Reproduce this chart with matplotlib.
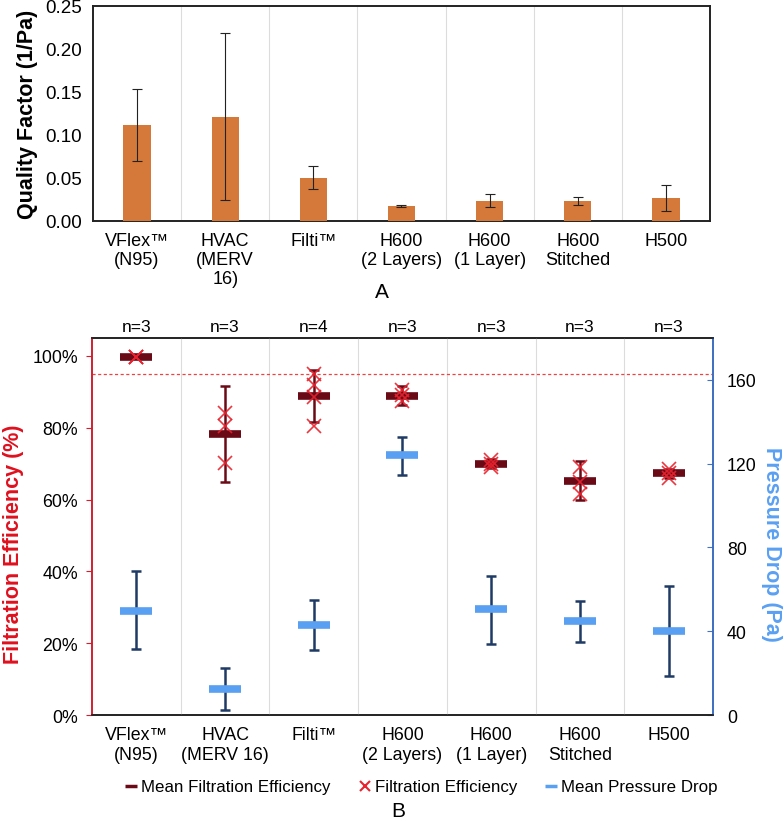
import matplotlib
matplotlib.use("Agg")
import matplotlib.pyplot as plt
import numpy as np
from matplotlib.lines import Line2D
from matplotlib.ticker import PercentFormatter

plt.rcParams['font.family'] = ['Liberation Sans', 'DejaVu Sans']

# ---------------- data ----------------
labels_a = ["VFlex™\n(N95)", "HVAC\n(MERV\n16)", "Filti™", "H600\n(2 Layers)",
            "H600\n(1 Layer)", "H600\nStitched", "H500"]
labels_b = ["VFlex™\n(N95)", "HVAC\n(MERV 16)", "Filti™", "H600\n(2 Layers)",
            "H600\n(1 Layer)", "H600\nStitched", "H500"]
quality_factor = [0.112, 0.121, 0.050, 0.017, 0.023, 0.023, 0.027]
qf_err_low = [0.042, 0.097, 0.013, 0.001, 0.007, 0.005, 0.015]
qf_err_high = [0.042, 0.097, 0.014, 0.001, 0.008, 0.005, 0.015]

n_samples = [3, 3, 4, 3, 3, 3, 3]
fe_points = [
    [99.8, 99.8, 99.8],
    [84.0, 80.5, 70.3],
    [95.0, 92.0, 88.5, 80.5],
    [90.5, 89.0, 87.5],
    [71.0, 70.0, 69.2],
    [69.2, 65.0, 61.5],
    [68.5, 67.5, 66.0],
]
fe_mean = [99.8, 78.2, 88.9, 88.9, 70.0, 65.3, 67.3]
fe_err = [0.0, 13.4, 7.2, 2.6, 1.3, 5.4, 1.3]
pd_mean = [49.9, 12.4, 43.1, 124.0, 50.4, 44.8, 40.2]
pd_err_low = [18.3, 10.0, 12.0, 9.4, 16.4, 9.7, 21.4]
pd_err_high = [18.7, 9.9, 11.6, 8.9, 15.8, 9.6, 21.2]
fe_threshold = 95

# ---------------- figure ----------------
fig = plt.figure(figsize=(7.84, 8.20), dpi=100)

bar_color = "#D4793A"
grid_color = "#DCDCDC"

# Panel A
axA = fig.add_axes([0.1186, 0.7293, 0.9056 - 0.1186, 0.9915 - 0.7293])
x = np.arange(len(labels_a))
axA.bar(x, quality_factor, width=0.31, color=bar_color, zorder=3)
axA.errorbar(x, quality_factor, yerr=[qf_err_low, qf_err_high], fmt='none',
             ecolor='#222222', elinewidth=0.8, capsize=3.5, capthick=0.8, zorder=4)
axA.set_xlim(-0.5, len(labels_a) - 0.5)
axA.set_ylim(0, 0.25)
axA.set_yticks(np.arange(0, 0.251, 0.05))
axA.set_yticklabels([f"{v:.2f}" for v in np.arange(0, 0.251, 0.05)], fontsize=13.5)
axA.set_xticks(x)
axA.set_xticklabels(labels_a, fontsize=13, linespacing=1.15)
axA.tick_params(axis='both', length=0, pad=8)
for xv in np.arange(0.5, len(labels_a) - 0.5, 1):
    axA.axvline(xv, color=grid_color, lw=0.8, zorder=0)
for s in axA.spines.values():
    s.set_color('#222222')
    s.set_linewidth(1.4)
axA.set_ylabel("Quality Factor (1/Pa)", fontsize=15.5, fontweight='bold', labelpad=5)
fig.text(382 / 784, 1 - 293 / 820, "A", fontsize=15, ha='center', va='center')

# Panel B
axB = fig.add_axes([0.1173, 0.1268, 0.9094 - 0.1173, 0.5866 - 0.1268])
axP = axB.twinx()
xb = np.arange(len(labels_b))
axB.set_xlim(-0.5, len(labels_b) - 0.5)
axB.set_ylim(0, 105)
axP.set_ylim(0, 180)

for xv in np.arange(0.5, len(labels_b) - 0.5, 1):
    axB.axvline(xv, color=grid_color, lw=0.8, zorder=0)
axB.axhline(fe_threshold, color='#F04040', lw=0.9, ls=(0, (2.5, 2)), zorder=1)

maroon = "#6B0A17"
red = "#E8222E"
light_blue = "#5AA0F2"
navy = "#1F3A64"

# pressure drop
axP.errorbar(xb, pd_mean, yerr=[pd_err_low, pd_err_high], fmt='none', ecolor=navy,
             elinewidth=1.8, capsize=3.5, capthick=1.8, zorder=2)
axP.plot(xb, pd_mean, ls='none', marker='_', ms=23, mew=5.5, color=light_blue, zorder=3)

# filtration efficiency on top
axB.set_zorder(axP.get_zorder() + 1)
axB.patch.set_visible(False)
axB.errorbar(xb, fe_mean, yerr=fe_err, fmt='none', ecolor=maroon, elinewidth=1.8,
             capsize=3.5, capthick=1.8, zorder=2)
axB.plot(xb, fe_mean, ls='none', marker='_', ms=23, mew=5.5, color=maroon, zorder=3)
for i, pts in enumerate(fe_points):
    axB.plot([xb[i]] * len(pts), pts, ls='none', marker='x', ms=10.5, mew=1.2,
             color=red, alpha=0.9, zorder=4)

for i, n in enumerate(n_samples):
    axB.annotate(f"n={n}", xy=(xb[i], 105), xytext=(0, 3), textcoords='offset points',
                 ha='center', va='bottom', fontsize=12.5, annotation_clip=False)

axB.set_yticks(np.arange(0, 101, 20))
axB.yaxis.set_major_formatter(PercentFormatter(decimals=0))
axB.set_xticks(xb)
axB.set_xticklabels(labels_b, fontsize=12.8, linespacing=1.2)
axB.tick_params(axis='x', length=0, pad=8)
axB.tick_params(axis='y', labelsize=12.8, length=4, color='#D02030', direction='out', pad=6)
axP.set_yticks(np.arange(0, 161, 40))
axP.tick_params(axis='y', labelsize=12.8, length=4, color='#4472C4', direction='in', pad=10)

for ax in (axB, axP):
    ax.spines['top'].set_color('#222222')
    ax.spines['bottom'].set_color('#222222')
    ax.spines['left'].set_color('#D02030')
    ax.spines['right'].set_color('#3B6EC0')
    for s in ax.spines.values():
        s.set_linewidth(1.2)

axB.set_ylabel("Filtration Efficiency (%)", fontsize=15.5, fontweight='bold',
               color='#E0101E')
axB.yaxis.set_label_coords(-0.109, 0.455)
axP.set_ylabel("Pressure Drop (Pa)", fontsize=15.5, fontweight='bold',
               color=light_blue, rotation=-90)
axP.yaxis.set_label_coords(1.111, 0.455)

handles = [
    Line2D([], [], ls='none', marker='_', ms=8, mew=2.5, color=maroon),
    Line2D([], [], ls='none', marker='x', ms=7, mew=1.5, color=red),
    Line2D([], [], ls='none', marker='_', ms=8, mew=2.5, color=light_blue),
]
fig.legend(handles, ["Mean Filtration Efficiency", "Filtration Efficiency", "Mean Pressure Drop"],
           loc='center', bbox_to_anchor=(422 / 784, 1 - 788 / 820), ncol=3, frameon=False,
           fontsize=12.2, handlelength=0.6, handletextpad=0.3, columnspacing=1.7)
fig.text(398 / 784, 1 - 812 / 820, "B", fontsize=15, ha='center', va='center')

fig.savefig("out.png", dpi=100)
